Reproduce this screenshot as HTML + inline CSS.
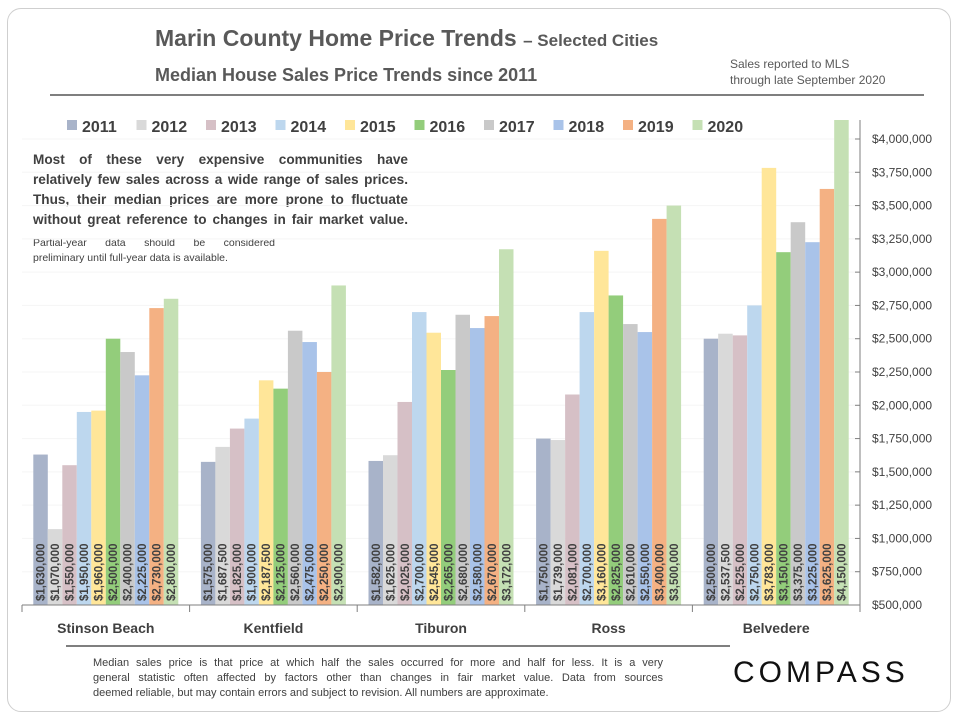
<!DOCTYPE html>
<html><head><meta charset="utf-8"><style>
body{margin:0;background:#fff;font-family:"Liberation Sans",sans-serif;}
#wrap{position:relative;width:960px;height:720px;overflow:hidden;}
#frame{position:absolute;left:7px;top:8px;width:942px;height:702px;border:1px solid #cfcfcf;border-radius:14px;}
.t{position:absolute;color:#595959;font-weight:bold;white-space:nowrap;}
.j{text-align:justify;text-align-last:justify;white-space:nowrap;}
</style></head><body>
<div id="wrap">
<div id="frame"></div>
<div class="t" style="left:155px;top:25px;font-size:23px;">Marin County Home Price Trends <span style="font-size:17px">– Selected Cities</span></div>
<div class="t" style="left:155px;top:65px;font-size:18px;">Median House Sales Price Trends since 2011</div>
<div class="t" style="left:730px;top:56px;font-size:12px;font-weight:normal;line-height:16px;">Sales reported to MLS<br>through late September 2020</div>
<div style="position:absolute;left:50px;top:94px;width:874px;height:2px;background:#7f7f7f"></div>
<div class="t" style="left:33px;top:150px;width:375px;font-size:13.6px;line-height:20px;color:#404040">
<div class="j">Most of these very expensive communities have</div>
<div class="j">relatively few sales across a wide range of sales prices.</div>
<div class="j">Thus, their median prices are more prone to fluctuate</div>
<div class="j">without great reference to changes in fair market value.</div></div>
<div class="t" style="left:33px;top:236px;width:242px;font-size:10.5px;font-weight:normal;line-height:15px;color:#404040">
<div class="j">Partial-year data should be considered</div>
<div>preliminary until full-year data is available.</div></div>
<div style="position:absolute;left:66px;top:645px;width:664px;height:2px;background:#7f7f7f"></div>
<div class="t" style="left:93px;top:656px;width:570px;font-size:11px;font-weight:normal;line-height:15px;color:#404040">
<div class="j">Median sales price is that price at which half the sales occurred for more and half for less. It is a very</div>
<div class="j">general statistic often affected by factors other than changes in fair market value. Data from sources</div>
<div>deemed reliable, but may contain errors and subject to revision. All numbers are approximate.</div></div>
<div class="t" style="left:733px;top:656px;font-size:30px;font-weight:normal;letter-spacing:4px;color:#111">COMPASS</div>
<svg id="chart" width="960" height="720" style="position:absolute;left:0;top:0"></svg>
</div>
<script>
const cities=["Stinson Beach","Kentfield","Tiburon","Ross","Belvedere"];
const years=["2011","2012","2013","2014","2015","2016","2017","2018","2019","2020"];
const colors=["#a8b3c9","#d9d9d9","#d6c0c6","#bdd7ee","#ffe699","#93cd7b","#c9c9c9","#a9c3e9","#f4b183","#c5e0b4"];
const stinson=[1630000,1070000,1550000,1950000,1960000,2500000,2400000,2225000,2730000,2800000];
const kentfield=[1575000,1687500,1825000,1900000,2187500,2125000,2560000,2475000,2250000,2900000];
const tiburon=[1582000,1625000,2025000,2700000,2545000,2265000,2680000,2580000,2670000,3172000];
const ross=[1750000,1739000,2081000,2700000,3160000,2825000,2610000,2550000,3400000,3500000];
const belvedere=[2500000,2537500,2525000,2750000,3783000,3150000,3375000,3225000,3625000,4150000];
const series=[stinson,kentfield,tiburon,ross,belvedere];
const ticks=[500000,750000,1000000,1250000,1500000,1750000,2000000,2250000,2500000,2750000,3000000,3250000,3500000,3750000,4000000];
const svg=document.getElementById('chart');const NS="http://www.w3.org/2000/svg";
const X0=22,X1=860,Y0=605,TOP=120;
const y=v=>Y0-(v-500000)/3500000*(605-139);
const gw=(X1-X0)/5,bw=14.5,pad=(gw-bw*10)/2;
function mk(t,a,txt){const e=document.createElementNS(NS,t);for(const k in a)e.setAttribute(k,a[k]);if(txt!==undefined)e.textContent=txt;svg.appendChild(e);return e;}
const fmt=v=>"$"+v.toLocaleString("en-US");
ticks.forEach(v=>{
 const l=mk('line',{x1:X0,x2:X1,y1:y(v),y2:y(v),stroke:'#f5f5f5'});
 
 
 const tk=mk('line',{x1:X1-5,x2:X1,y1:y(v),y2:y(v),stroke:'#7f7f7f'});
 
 
 const t=mk('text',{x:872,y:y(v)+4,'font-size':12,fill:'#404040','font-family':'Liberation Sans, sans-serif'},fmt(v));
 
 
});
series.forEach((s,g)=>{
 s.forEach((v,i)=>{
  const bx=X0+g*gw+pad+i*bw, by=Math.max(y(v),TOP);
  const r=mk('rect',{x:bx,y:by,width:bw,height:Y0-by,fill:colors[i]});
  
  
  const cx=bx+bw/2+4;
  const t=mk('text',{x:0,y:0,transform:`translate(${cx},${Y0-4}) rotate(-90)`,'font-size':11.5,'font-weight':'bold',fill:'#404040','font-family':'Liberation Sans, sans-serif'},fmt(v));
  
  
 });
 const lbl=mk('text',{x:X0+g*gw+gw/2,y:633,'text-anchor':'middle','font-size':14,'font-weight':'bold',fill:'#404040','font-family':'Liberation Sans, sans-serif'},cities[g]);
 
 
});
for(let g=0;g<=5;g++){const l=mk('line',{x1:X0+g*gw,x2:X0+g*gw,y1:Y0,y2:Y0+7,stroke:'#7f7f7f'});
 
 }
const xa=mk('line',{x1:X0,x2:X1,y1:Y0,y2:Y0,stroke:'#7f7f7f'});


const ya=mk('line',{x1:X1,x2:X1,y1:TOP,y2:Y0,stroke:'#7f7f7f'});


years.forEach((yr,i)=>{
 const lx=67+i*69.5;
 const r=mk('rect',{x:lx,y:120,width:10,height:10,fill:colors[i]});
 
 
 const t=mk('text',{x:lx+15,y:132,'font-size':16,'font-weight':'bold',fill:'#404040','font-family':'Liberation Sans, sans-serif'},yr);
 
 
});
</script>
</body></html>
